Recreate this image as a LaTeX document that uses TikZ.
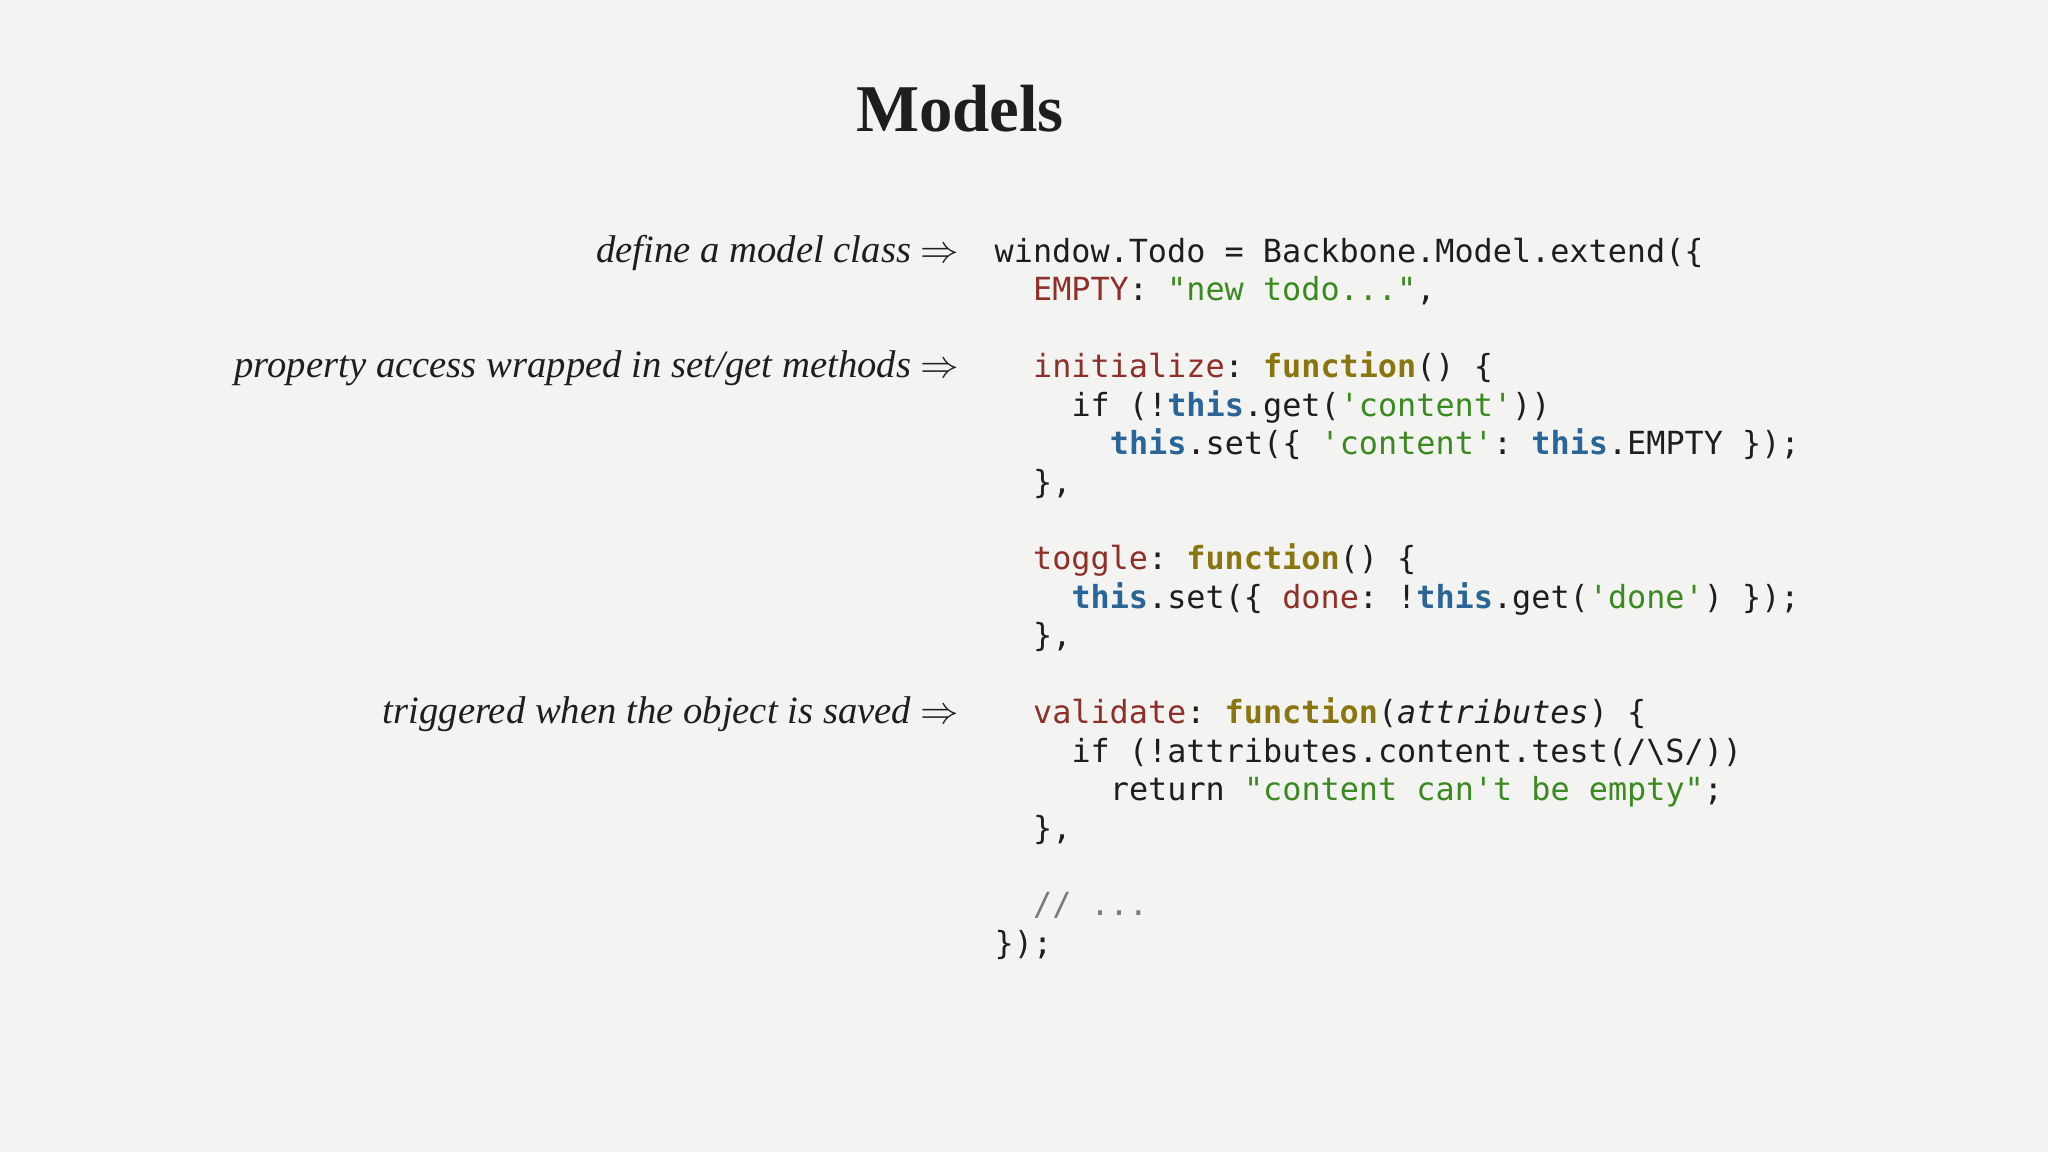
\documentclass[tikz,border=0pt]{standalone}
\usepackage{fontspec}
\setmainfont{Liberation Serif}
\setmonofont{DejaVu Sans Mono}
\definecolor{bg}{HTML}{F3F3F2}
\definecolor{ckey}{HTML}{8E2F2A}
\definecolor{cstr}{HTML}{3B8A1F}
\definecolor{cfun}{HTML}{8A7610}
\definecolor{cthis}{HTML}{2A6597}
\definecolor{ccom}{HTML}{7A7A7A}
\definecolor{ctext}{HTML}{1E1E1E}
\newcommand{\ck}[1]{\textcolor{ckey}{#1}}
\newcommand{\cs}[1]{\textcolor{cstr}{#1}}
\newcommand{\cf}[1]{\textcolor{cfun}{\bfseries #1}}
\newcommand{\ct}[1]{\textcolor{cthis}{\bfseries #1}}
\newcommand{\cc}[1]{\textcolor{ccom}{#1}}
\begin{document}
\begin{tikzpicture}[x=0.01cm,y=-0.01cm,
  codeline/.style={anchor=base west,inner sep=0,text=ctext,font=\ttfamily\fontsize{9.05}{10.9}\selectfont},
  note/.style={anchor=base east,inner sep=0,text=ctext,font=\itshape\fontsize{11}{13}\selectfont}]
\fill[bg] (0,0) rectangle (2048,1152);
\useasboundingbox (0,0) rectangle (2048,1152);
\node[anchor=base,inner sep=0,text=ctext,font=\bfseries\fontsize{19}{22}\selectfont] (title) at (960,132) {Models};
\def\bx{994}\def\cw{19.2}
\node[codeline] (l0) at (\bx,262.5) {window.Todo = Backbone.Model.extend(\{};
\node[codeline] (l1) at (\bx+2*\cw,300.9) {\ck{EMPTY}: \cs{"new todo..."},};
\node[codeline] (l3) at (\bx+2*\cw,377.8) {\ck{initialize}: \cf{function}() \{};
\node[codeline] (l4) at (\bx+4*\cw,416.2) {if (!\ct{this}.get(\cs{'content'}))};
\node[codeline] (l5) at (\bx+6*\cw,454.6) {\ct{this}.set(\{ \cs{'content'}: \ct{this}.EMPTY \});};
\node[codeline] (l6) at (\bx+2*\cw,493.1) {\},};
\node[codeline] (l8) at (\bx+2*\cw,569.9) {\ck{toggle}: \cf{function}() \{};
\node[codeline] (l9) at (\bx+4*\cw,608.4) {\ct{this}.set(\{ \ck{done}: !\ct{this}.get(\cs{'done'}) \});};
\node[codeline] (l10) at (\bx+2*\cw,646.8) {\},};
\node[codeline] (l12) at (\bx+2*\cw,723.7) {\ck{validate}: \cf{function}(\textit{attributes}) \{};
\node[codeline] (l13) at (\bx+4*\cw,762.1) {if (!attributes.content.test(/\textbackslash S/))};
\node[codeline] (l14) at (\bx+6*\cw,800.5) {return \cs{"content can't be empty"};};
\node[codeline] (l15) at (\bx+2*\cw,839.0) {\},};
\node[codeline] (l17) at (\bx+2*\cw,915.8) {\cc{// ...}};
\node[codeline] (l18) at (\bx,954.3) {\});};
\node[note] (n1) at (960,262.5) {define a model class $\Rightarrow$};
\node[note] (n2) at (960,377.8) {property access wrapped in set/get methods $\Rightarrow$};
\node[note] (n3) at (960,723.7) {triggered when the object is saved $\Rightarrow$};
\end{tikzpicture}
\end{document}
